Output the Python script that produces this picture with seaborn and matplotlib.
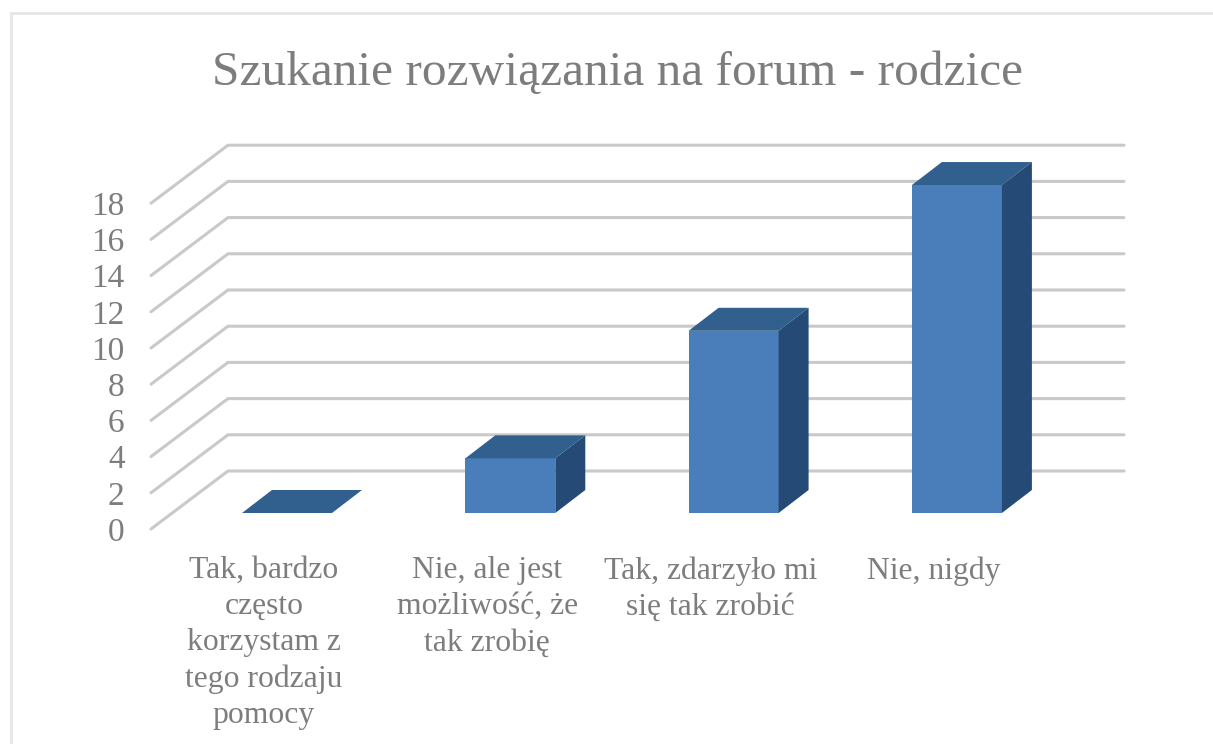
import matplotlib
matplotlib.use("Agg")
import matplotlib.pyplot as plt
from matplotlib.lines import Line2D
from matplotlib.patches import Polygon
import seaborn as sns
import pandas as pd

title = "Szukanie rozwiązania na forum - rodzice"
categories = ["Tak, bardzo\nczęsto\nkorzystam z\ntego rodzaju\npomocy",
              "Nie, ale jest\nmożliwość, że\ntak zrobię",
              "Tak, zdarzyło mi\nsię tak zrobić",
              "Nie, nigdy"]
values = [0, 3, 10, 18]
y_ticks = list(range(0, 19, 2))

W, H = 1213, 744
sns.set_theme(style="white")
plt.rcParams["font.family"] = ["Liberation Serif", "DejaVu Serif"]

FRONT = "#4a7ebb"; TOP = "#31608f"; SIDE = "#244a75"
GRID = "#c9c9c9"; TEXT = "#7d7d7d"; BORDER = "#e6e6e6"
PX_X, PX_Y, PX_BAR = 223.3, 18.1, 18.22   # pixels per category / per unit on wall / on bars
AX_W, AX_H = 1016, 500

fig = plt.figure(figsize=(W / 100, H / 100), dpi=100, facecolor="white")

def make_axes(left_px, bottom_px, z):
    a = fig.add_axes([left_px / W, (H - bottom_px) / H, AX_W / W, AX_H / H], zorder=z)
    a.patch.set_alpha(0)
    return a

wall = make_axes(151, 529, 1)
bars = make_axes(174, 513, 2)

x0 = (151 - 264) / PX_X
xlim = (x0, x0 + AX_W / PX_X)

# wall: the chart frame, gridlines and tick labels
depth_x, depth_y = 77 / PX_X, 58 / PX_Y
grid_end = (1124 - 264) / PX_X
for v in y_ticks:
    wall.plot([x0, x0 + depth_x, grid_end], [v, v + depth_y, v + depth_y],
              color=GRID, lw=2.2, solid_capstyle="round", solid_joinstyle="miter", clip_on=False)
wall.set_xlim(xlim); wall.set_ylim(0, AX_H / PX_Y)
wall.set_yticks(y_ticks)
wall.set_xticks(range(len(categories)))
wall.set_xticklabels(categories, fontsize=22.8, color=TEXT, linespacing=1.325, ha="center")
wall.set_yticklabels([str(v) for v in y_ticks], fontsize=24, color=TEXT)
wall.tick_params(axis="y", length=0, pad=19)
wall.tick_params(axis="x", length=0, pad=19.5)
sns.despine(ax=wall, left=True, bottom=True)

# bars: front faces through seaborn, plus the extruded top and side
df = pd.DataFrame({"cat": categories, "val": values})
sns.barplot(data=df, x="cat", y="val", order=categories, color=FRONT,
            saturation=1, width=0.403, linewidth=0, ax=bars)
bars.set_xlim(xlim); bars.set_ylim(0, AX_H / PX_BAR)
bars.axis("off")
bw = 0.403 / 2
dx, dy = 30 / PX_X, 23 / PX_BAR
for i, v in enumerate(values):
    bars.add_patch(Polygon([(i - bw, v), (i + bw, v), (i + bw + dx, v + dy), (i - bw + dx, v + dy)],
                           closed=True, facecolor=TOP, edgecolor="none"))
    if v > 0:
        bars.add_patch(Polygon([(i + bw, 0), (i + bw + dx, dy), (i + bw + dx, v + dy), (i + bw, v)],
                               closed=True, facecolor=SIDE, edgecolor="none"))

# chart-area border
fig.add_artist(Line2D([11 / W, 11 / W], [0, 1 - 13 / H], color=BORDER, lw=2))
fig.add_artist(Line2D([11 / W, 1], [1 - 13 / H, 1 - 13 / H], color=BORDER, lw=2))

fig.suptitle(title, x=617 / W, y=1 - 85 / H, va="baseline", ha="center", fontsize=35.6, color=TEXT)
fig.savefig("out.png", dpi=100, facecolor="white")
